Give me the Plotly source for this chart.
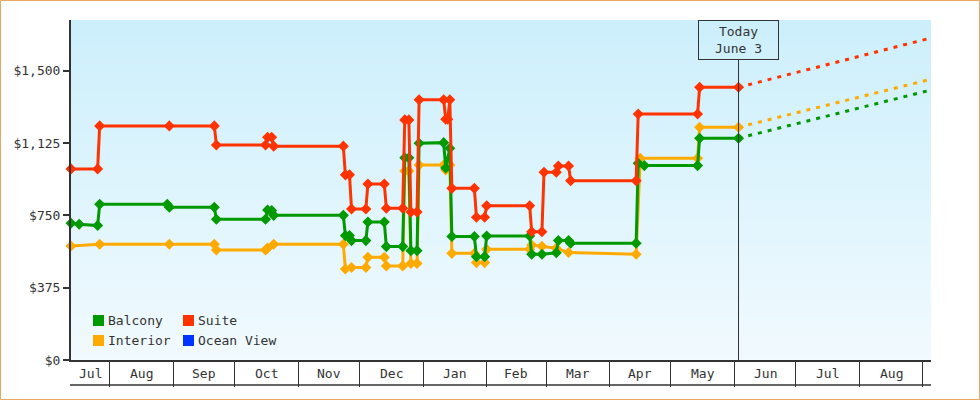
import plotly.graph_objects as go
import pandas as pd

# ---------------- data ----------------
x_start = "2023-07-13"
x_end = "2024-09-05"
today = "2024-06-03"
today_label = "Today<br>June 3"

interior_dates = ["2023-07-13", "2023-07-27", "2023-08-30", "2023-09-21", "2023-09-22", "2023-10-16",
                  "2023-10-17", "2023-10-20", "2023-11-23", "2023-11-24", "2023-11-27", "2023-12-04",
                  "2023-12-05", "2023-12-13", "2023-12-14", "2023-12-22", "2023-12-23", "2023-12-25",
                  "2023-12-26", "2023-12-29", "2023-12-30", "2024-01-11", "2024-01-12", "2024-01-14",
                  "2024-01-15", "2024-01-26", "2024-01-27", "2024-01-31", "2024-02-01", "2024-02-22",
                  "2024-02-23", "2024-02-28", "2024-03-06", "2024-03-12", "2024-04-14", "2024-04-16",
                  "2024-05-14", "2024-05-15", "2024-06-03"]
interior_prices = [591, 600, 600, 600, 570, 570,
                   580, 600, 600, 472, 480, 480,
                   533, 533, 488, 488, 980, 980,
                   501, 501, 1011, 1011, 985, 1011,
                   553, 553, 505, 505, 574, 574,
                   596, 590, 580, 557, 548, 1046,
                   1046, 1207, 1207]

balcony_dates = ["2023-07-13", "2023-07-17", "2023-07-26", "2023-07-27", "2023-08-29", "2023-08-30",
                 "2023-09-21", "2023-09-22", "2023-10-16", "2023-10-17", "2023-10-19", "2023-10-20",
                 "2023-11-23", "2023-11-24", "2023-11-26", "2023-11-27", "2023-12-04", "2023-12-05",
                 "2023-12-13", "2023-12-14", "2023-12-22", "2023-12-23", "2023-12-25", "2023-12-26",
                 "2023-12-29", "2023-12-30", "2024-01-11", "2024-01-12", "2024-01-14", "2024-01-15",
                 "2024-01-26", "2024-01-27", "2024-01-31", "2024-02-01", "2024-02-22", "2024-02-23",
                 "2024-02-28", "2024-03-06", "2024-03-07", "2024-03-12", "2024-03-13", "2024-04-14",
                 "2024-04-15", "2024-04-18", "2024-05-14", "2024-05-15", "2024-06-03"]
balcony_prices = [709, 704, 697, 808, 808, 792,
                  792, 730, 730, 778, 775, 750,
                  750, 645, 645, 619, 619, 716,
                  716, 588, 588, 1049, 1049, 567,
                  567, 1124, 1127, 996, 1098, 640,
                  640, 536, 536, 643, 643, 548,
                  548, 556, 620, 620, 605, 605,
                  1020, 1008, 1008, 1150, 1150]

suite_dates = ["2023-07-13", "2023-07-26", "2023-07-27", "2023-08-30", "2023-09-21", "2023-09-22",
               "2023-10-16", "2023-10-17", "2023-10-19", "2023-10-20", "2023-11-23", "2023-11-24",
               "2023-11-26", "2023-11-27", "2023-12-04", "2023-12-05", "2023-12-13", "2023-12-14",
               "2023-12-22", "2023-12-23", "2023-12-25", "2023-12-26", "2023-12-29", "2023-12-30",
               "2024-01-11", "2024-01-12", "2024-01-13", "2024-01-14", "2024-01-15", "2024-01-26",
               "2024-01-27", "2024-01-31", "2024-02-01", "2024-02-22", "2024-02-23", "2024-02-28",
               "2024-02-29", "2024-03-06", "2024-03-07", "2024-03-12", "2024-03-13", "2024-04-14",
               "2024-04-15", "2024-05-14", "2024-05-15", "2024-06-03"]
suite_prices = [991, 991, 1214, 1214, 1214, 1115,
                1115, 1155, 1155, 1109, 1109, 960,
                960, 783, 783, 913, 913, 787,
                787, 1245, 1245, 768, 768, 1349,
                1349, 1248, 1248, 1349, 890, 890,
                740, 740, 800, 800, 665, 665,
                974, 974, 1006, 1006, 930, 930,
                1276, 1276, 1414, 1414]

forecast_end = "2024-09-05"
interior_forecast = 1456
balcony_forecast = 1400
suite_forecast = 1670

series_names = ["Balcony", "Suite", "Interior", "Ocean View"]
series_colors = {"Balcony": "#009900", "Suite": "#ff3300", "Interior": "#ffaa00", "Ocean View": "#0033ff"}

y_ticks = [0, 375, 750, 1125, 1500]
y_max = 1763

month_labels = ["Jul", "Aug", "Sep", "Oct", "Nov", "Dec", "Jan", "Feb", "Mar", "Apr", "May", "Jun", "Jul", "Aug", "Sep"]
month_starts = pd.date_range("2023-07-01", "2024-09-01", freq="MS")

# ---------------- figure ----------------
W, H = 980, 400
ML, MR, MT, MB = 71, 49, 20, 40
PW, PH = W - ML - MR, H - MT - MB
FONT = "DejaVu Sans Mono"
DARK = "#333333"


def px(X):
    return (X - ML) / PW


def py(Y):
    return (H - MB - Y) / PH


fig = go.Figure()

history = [("Interior", interior_dates, interior_prices, interior_forecast),
           ("Balcony", balcony_dates, balcony_prices, balcony_forecast),
           ("Suite", suite_dates, suite_prices, suite_forecast)]

for name, d, p, fc in history:
    col = series_colors[name]
    fig.add_trace(go.Scatter(x=[today, forecast_end], y=[p[-1], fc], mode="lines",
                             line=dict(color=col, width=3, dash="4px,6px"),
                             showlegend=False, hoverinfo="skip", cliponaxis=False))
for name, d, p, fc in history:
    col = series_colors[name]
    fig.add_trace(go.Scatter(x=d, y=p, mode="lines+markers", name=name,
                             line=dict(color=col, width=3),
                             marker=dict(symbol="diamond", size=8.5, color=col),
                             showlegend=False, cliponaxis=False))

shapes = []
# gradient background
N = 68
top = (204, 239, 252)
bot = (241, 250, 254)
for i in range(N):
    t = (i + 0.5) / N
    c = tuple(round(bot[k] + (top[k] - bot[k]) * t) for k in range(3))
    shapes.append(dict(type="rect", xref="paper", yref="paper", x0=0, x1=1,
                       y0=i / N, y1=(i + 1) / N, fillcolor="rgb(%d,%d,%d)" % c,
                       line=dict(width=0), layer="below"))

# month band bottom line
shapes.append(dict(type="line", xref="paper", yref="paper", x0=px(70), x1=1,
                   y0=py(385), y1=py(385), line=dict(color=DARK, width=1.5)))
# today line
shapes.append(dict(type="line", xref="x", yref="paper", x0=today, x1=today,
                   y0=0, y1=py(60), line=dict(color=DARK, width=1)))
# figure border
shapes.append(dict(type="rect", xref="paper", yref="paper", x0=px(0.5), x1=px(979.5),
                   y0=py(399.5), y1=py(0.5), line=dict(color="#e9a862", width=1)))

annotations = []
# month labels
xs = pd.Timestamp(x_start)
xe = pd.Timestamp(x_end)
for i, lab in enumerate(month_labels):
    s = month_starts[i]
    e = s + pd.offsets.MonthBegin(1)
    a, b = max(s, xs), min(e, xe)
    if (b - a).days < 12:
        continue
    mid = a + (b - a) / 2
    annotations.append(dict(x=mid, y=py(373), xref="x", yref="paper", text=lab,
                            showarrow=False, xanchor="center", yanchor="middle",
                            font=dict(family=FONT, size=13, color=DARK)))

# today box
annotations.append(dict(x=today, y=1, xref="x", yref="paper", text=today_label,
                        showarrow=False, xanchor="center", yanchor="top",
                        bordercolor=DARK, borderwidth=1, borderpad=0,
                        width=79, height=38, align="center",
                        font=dict(family=FONT, size=13, color=DARK)))

# legend (manual)
legend_pos = {"Balcony": (93, 315), "Suite": (183, 315), "Interior": (93, 335), "Ocean View": (183, 335)}
for name in series_names:
    X, Y = legend_pos[name]
    shapes.append(dict(type="rect", xref="paper", yref="paper", x0=px(X), x1=px(X + 11),
                       y0=py(Y + 11), y1=py(Y), fillcolor=series_colors[name], line=dict(width=0)))
    annotations.append(dict(x=px(X + 13), y=py(Y + 5.5), xref="paper", yref="paper", text=name,
                            showarrow=False, xanchor="left", yanchor="middle",
                            font=dict(family=FONT, size=13, color=DARK)))

fig.update_layout(
    width=W, height=H,
    margin=dict(l=ML, r=MR, t=MT, b=MB, pad=0),
    paper_bgcolor="white", plot_bgcolor="rgb(225,245,253)",
    shapes=shapes, annotations=annotations,
    showlegend=False,
    font=dict(family=FONT, size=13, color=DARK),
    xaxis=dict(type="date", range=[x_start, x_end], showgrid=False, zeroline=False,
               showline=True, linecolor=DARK, linewidth=2,
               ticks="outside", ticklen=25, tickwidth=1, tickcolor=DARK,
               tick0="2023-08-01", dtick="M1", showticklabels=False),
    yaxis=dict(range=[0, y_max], showgrid=False, zeroline=False,
               showline=True, linecolor=DARK, linewidth=2,
               ticks="outside", ticklen=6, tickwidth=2, tickcolor=DARK,
               tickvals=y_ticks, ticktext=["$" + format(v, ",") for v in y_ticks],
               tickfont=dict(family=FONT, size=13, color=DARK)),
)

fig.write_html("out.html")
